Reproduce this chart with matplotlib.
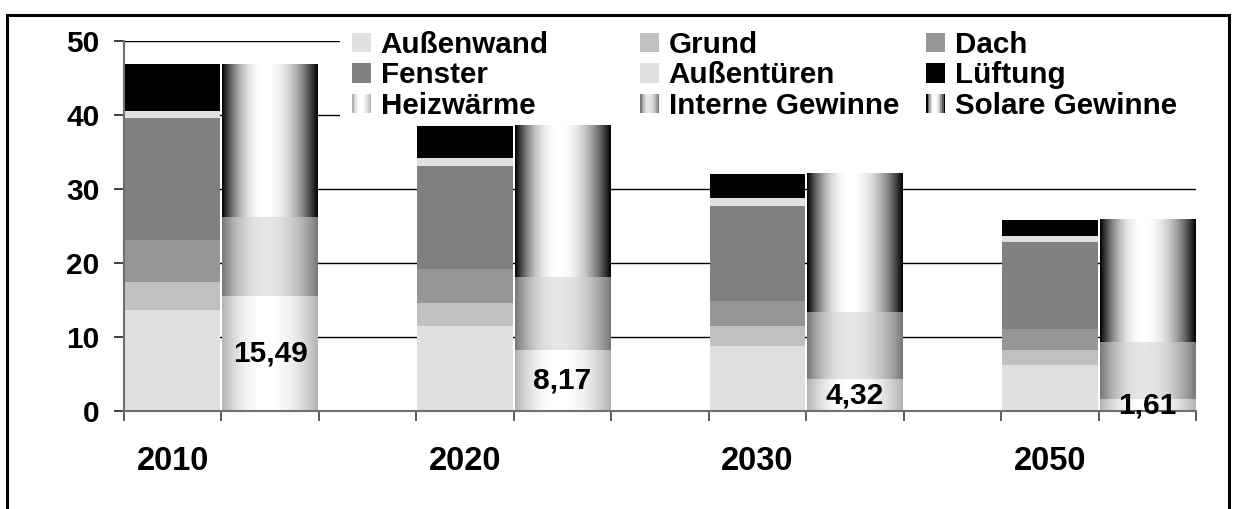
import matplotlib
matplotlib.use("Agg")
import matplotlib.pyplot as plt
import numpy as np
from matplotlib.patches import Rectangle, Patch
from matplotlib.legend_handler import HandlerBase

plt.rcParams['font.family'] = ['Liberation Sans', 'DejaVu Sans']
plt.rcParams['font.weight'] = 'bold'

# Daten (kWh/m²a)
years = ["2010", "2020", "2030", "2050"]
aussenwand = [13.6, 11.5, 8.8, 6.2]
grund = [3.8, 3.1, 2.7, 2.0]
dach = [5.7, 4.6, 3.3, 2.9]
fenster = [16.5, 13.9, 12.9, 11.7]
aussentueren = [0.9, 1.1, 1.0, 0.8]
lueftung = [6.3, 4.3, 3.3, 2.2]
heizwaerme = [15.49, 8.17, 4.32, 1.61]
interne = [10.7, 9.9, 9.0, 7.7]
solare = [20.6, 20.4, 18.7, 16.5]

loss_names = ["Außenwand", "Grund", "Dach", "Fenster", "Außentüren", "Lüftung"]
loss_vals = [aussenwand, grund, dach, fenster, aussentueren, lueftung]
loss_cols = ['#e0e0e0', '#c0c0c0', '#969696', '#808080', '#e0e0e0', '#000000']
gain_names = ["Heizwärme", "Interne Gewinne", "Solare Gewinne"]
gain_vals = [heizwaerme, interne, solare]
gain_range = [(0.70, 1.0), (0.47, 0.90), (0.0, 1.0)]


def grad_row(lo, hi, n=200, c=0.45):
    t = np.linspace(0, 1, n)
    d = np.where(t < c, (c - t) / c, (t - c) / (1 - c))
    return hi - (hi - lo) * d ** 2.2


class GradientHandler(HandlerBase):
    def __init__(self, row):
        super().__init__()
        self.row = row

    def create_artists(self, legend, orig_handle, xdescent, ydescent,
                       width, height, fontsize, trans):
        n = len(self.row)
        arts = []
        for i, v in enumerate(self.row):
            arts.append(Rectangle((-xdescent + i * width / n, -ydescent),
                                  width / n * 1.02, height, facecolor=(v, v, v),
                                  edgecolor='none', transform=trans))
        return arts


W, H = 1235, 509
fig = plt.figure(figsize=(W / 100, H / 100), dpi=100)
ax = fig.add_axes([124 / W, 1 - 411 / H, (1196 - 124) / W, (411 - 40.7) / H])

x_loss = np.arange(len(years)) * 3
x_gain = x_loss + 1
bw = 0.98

bottom = np.zeros(len(years))
for name, vals, col in zip(loss_names, loss_vals, loss_cols):
    ax.bar(x_loss, vals, bw, bottom=bottom, color=col, edgecolor='none', zorder=2)
    bottom += np.array(vals)

bottom = np.zeros(len(years))
heiz_bars = None
for name, vals, (lo, hi) in zip(gain_names, gain_vals, gain_range):
    bars = ax.bar(x_gain, vals, bw, bottom=bottom, color='none', edgecolor='none', zorder=2)
    img = grad_row(lo, hi)[None, :]
    for r in bars:
        ax.imshow(img, extent=(r.get_x(), r.get_x() + r.get_width(),
                               r.get_y(), r.get_y() + r.get_height()),
                  aspect='auto', cmap='gray', vmin=0, vmax=1,
                  interpolation='bilinear', zorder=2)
    if heiz_bars is None:
        heiz_bars = bars
    bottom += np.array(vals)

ax.bar_label(heiz_bars, labels=[f"{v:.2f}".replace('.', ',') for v in heizwaerme],
             label_type='center', fontsize=21.5, fontweight='bold', zorder=5)

ax.set_xlim(-0.5, 10.5)
ax.set_ylim(0, 50)
ax.set_yticks(np.arange(0, 51, 10))
ax.set_xticks(x_loss)
ax.set_xticklabels(years, fontsize=23.5, fontweight='bold')
ax.set_xticks(np.arange(-0.5, 11, 1), minor=True)
ax.tick_params(axis='x', which='major', length=0, pad=25)
ax.tick_params(axis='x', which='minor', length=7, width=1.2, color='#404040')
ax.tick_params(axis='y', labelsize=21.5, length=7.5, width=1.2, pad=10, color='#202020')
for lbl in ax.get_yticklabels():
    lbl.set_fontweight('bold')

ax.set_axisbelow(True)
ax.grid(axis='y', color='black', lw=1.0)
for s in ['top', 'right']:
    ax.spines[s].set_visible(False)
for s in ['left', 'bottom']:
    ax.spines[s].set_color('#707070')
    ax.spines[s].set_linewidth(1.5)

# weißer Legendenhintergrund
ax.add_patch(Rectangle((340 / W, 1 - 124 / H), (1200 - 340) / W, (124 - 28) / H,
                       transform=fig.transFigure, facecolor='white',
                       edgecolor='none', zorder=1, clip_on=False))

handles = {n: Patch(facecolor=c, edgecolor='none') for n, c in zip(loss_names, loss_cols)}
hmap = {}
for n, (lo, hi) in zip(gain_names, gain_range):
    h = Patch(facecolor='white')
    handles[n] = h
    hmap[h] = GradientHandler(grad_row(lo, hi, n=12))

columns = [["Außenwand", "Fenster", "Heizwärme"],
           ["Grund", "Außentüren", "Interne Gewinne"],
           ["Dach", "Lüftung", "Solare Gewinne"]]
col_x = [352, 640, 926]
for names, cx in zip(columns, col_x):
    leg = fig.legend([handles[n] for n in names], names, loc='upper left',
                     bbox_to_anchor=(cx / W, 1 - 31 / H), frameon=False,
                     borderpad=0, borderaxespad=0, handlelength=0.65,
                     handleheight=0.62, handletextpad=0.32, labelspacing=0.08,
                     prop={'size': 21.3, 'weight': 'bold'}, handler_map=hmap)

# Rahmen
fig.add_artist(Rectangle((7 / W, -0.05), (1229 - 7) / W, 1.05 - 15 / H,
                         transform=fig.transFigure, fill=False,
                         edgecolor='black', lw=2.2))

fig.savefig("out.png", dpi=100)
